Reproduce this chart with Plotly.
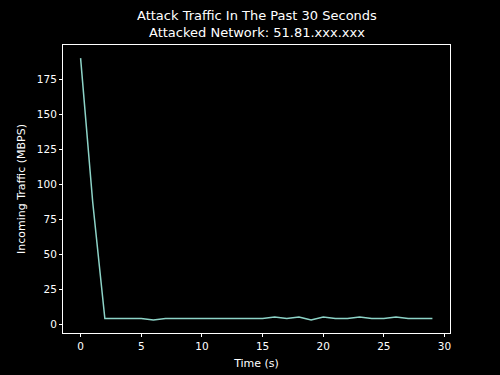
import plotly.graph_objects as go

time_s = list(range(30))
traffic_mbps = [190, 87, 4, 4, 4, 4, 3, 4, 4, 4, 4, 4, 4, 4, 4, 4,
                5, 4, 5, 3, 5, 4, 4, 5, 4, 4, 5, 4, 4, 4]
x_ticks = [0, 5, 10, 15, 20, 25, 30]
y_ticks = [0, 25, 50, 75, 100, 125, 150, 175]

title_text = "Attack Traffic In The Past 30 Seconds<br>Attacked Network: 51.81.xxx.xxx"

fig = go.Figure()
fig.add_trace(go.Scatter(x=time_s, y=traffic_mbps, mode="lines",
                         line=dict(color="#8dd3c7", width=1.5), showlegend=False))

ymin, ymax = min(traffic_mbps), max(traffic_mbps)
ypad = (ymax - ymin) * 0.05
xpad = (max(time_s) - min(time_s)) * 0.05

axis_common = dict(showline=True, linecolor="white", linewidth=1, mirror=True,
                   ticks="outside", ticklen=3, tickwidth=1, tickcolor="white",
                   showgrid=False, zeroline=False, automargin=False,
                   tickfont=dict(color="white", size=10.5, family="DejaVu Sans"))

fig.update_layout(
    width=500, height=375,
    paper_bgcolor="black", plot_bgcolor="black",
    margin=dict(l=63, r=50, t=45, b=42),
    font=dict(family="DejaVu Sans", color="white"),
    xaxis=dict(range=[min(time_s) - xpad, max(time_s) + xpad], tickvals=x_ticks,
               title=dict(text="Time (s)", standoff=8,
                          font=dict(size=11, color="white")), **axis_common),
    yaxis=dict(range=[ymin - ypad, ymax + ypad], tickvals=y_ticks,
               title=dict(text="Incoming Traffic (MBPS)", standoff=9,
                          font=dict(size=11, color="white")), **axis_common),
    annotations=[dict(text=title_text, x=0.5, xref="paper", xanchor="center",
                      y=1, yref="paper", yanchor="bottom", yshift=3,
                      showarrow=False, align="center",
                      font=dict(size=13, color="white", family="DejaVu Sans"))],
)

fig.write_html("out.html")
